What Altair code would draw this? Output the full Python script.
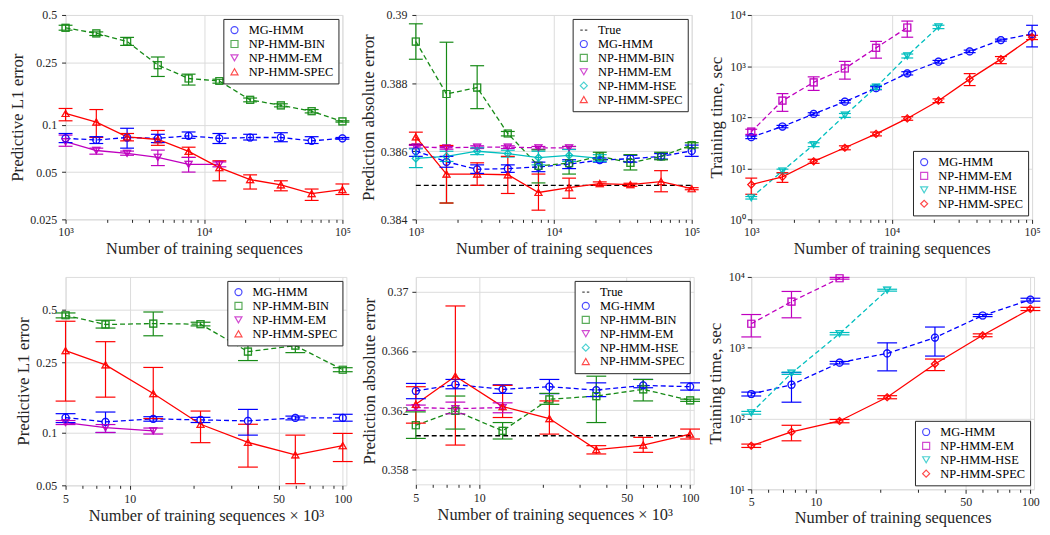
import json
import altair as alt
import pandas as pd

FONT = "Liberation Serif"
INK = "#262626"

MG, BIN, EM, HSE, SPEC, TRUE = "MG-HMM", "NP-HMM-BIN", "NP-HMM-EM", "NP-HMM-HSE", "NP-HMM-SPEC", "True"
COLOR = {TRUE: "#000000", MG: "#0000ff", BIN: "#168a16", EM: "#bf00bf", HSE: "#00bfbf", SPEC: "#ff0000"}
DASHED_PATH = "M-1,0L-0.3,0M0.3,0L1,0"

# ---------------- data: top row (x = number of training sequences) ----------------
X_TOP = [1000, 1668, 2783, 4642, 7743, 12915, 21544, 35938, 59948, 100000]

# panel 1: predictive L1 error
P1_MG = [0.082, 0.080, 0.083, 0.082, 0.085, 0.082, 0.083, 0.083, 0.079, 0.082]
P1_MG_LO = [0.077, 0.076, 0.071, 0.077, 0.082, 0.076, 0.080, 0.078, 0.076, 0.081]
P1_MG_HI = [0.088, 0.084, 0.095, 0.087, 0.090, 0.088, 0.087, 0.089, 0.084, 0.083]
P1_BIN = [0.414, 0.382, 0.339, 0.240, 0.197, 0.190, 0.144, 0.133, 0.122, 0.105]
P1_BIN_LO = [0.400, 0.370, 0.320, 0.203, 0.179, 0.184, 0.140, 0.130, 0.119, 0.104]
P1_BIN_HI = [0.430, 0.390, 0.360, 0.270, 0.210, 0.195, 0.148, 0.136, 0.125, 0.106]
P1_EM = [0.078, 0.0686, 0.0658, 0.0621, 0.056, 0.056]
P1_EM_LO = [0.073, 0.065, 0.064, 0.055, 0.050, 0.054]
P1_EM_HI = [0.086, 0.071, 0.068, 0.069, 0.062, 0.058]
P1_SPEC = [0.118, 0.104, 0.0838, 0.0806, 0.0677, 0.0534, 0.0448, 0.0415, 0.0365, 0.0387]
P1_SPEC_LO = [0.106, 0.083, 0.079, 0.074, 0.062, 0.044, 0.039, 0.038, 0.033, 0.036]
P1_SPEC_HI = [0.127, 0.125, 0.088, 0.092, 0.072, 0.059, 0.048, 0.044, 0.039, 0.042]

# panel 2: prediction absolute error
P2_TRUE = [0.385, 0.385]
P2_MG = [0.38601, 0.38569, 0.38547, 0.38549, 0.38554, 0.38562, 0.38574, 0.38578, 0.38585, 0.38601]
P2_MG_LO = [0.38585, 0.38553, 0.38535, 0.38538, 0.38540, 0.38549, 0.38568, 0.38568, 0.38577, 0.38585]
P2_MG_HI = [0.38618, 0.38585, 0.38560, 0.38560, 0.38568, 0.38575, 0.38580, 0.38588, 0.38593, 0.38618]
P2_BIN = [0.38922, 0.38768, 0.38787, 0.38652, 0.38557, 0.38565, 0.38585, 0.38566, 0.38585, 0.38618]
P2_BIN_LO = [0.38870, 0.38448, 0.38725, 0.38645, 0.38507, 0.38533, 0.38575, 0.38545, 0.38575, 0.38610]
P2_BIN_HI = [0.38974, 0.38920, 0.38851, 0.38658, 0.38604, 0.38614, 0.38597, 0.38590, 0.38597, 0.38625]
P2_EM = [0.38613, 0.38610, 0.38612, 0.38612, 0.38610, 0.38610]
P2_EM_LO = [0.38609, 0.38606, 0.38608, 0.38608, 0.38606, 0.38606]
P2_EM_HI = [0.38617, 0.38614, 0.38616, 0.38616, 0.38614, 0.38614]
P2_HSE = [0.38579, 0.38585, 0.38600, 0.38593, 0.38581, 0.38588, 0.38579]
P2_HSE_LO = [0.38552, 0.38570, 0.38590, 0.38583, 0.38560, 0.38570, 0.38570]
P2_HSE_HI = [0.38607, 0.38600, 0.38610, 0.38603, 0.38600, 0.38605, 0.38590]
P2_SPEC = [0.38642, 0.38533, 0.38533, 0.38531, 0.38479, 0.38493, 0.38505, 0.38502, 0.38511, 0.38490]
P2_SPEC_LO = [0.38620, 0.38448, 0.38500, 0.38476, 0.38427, 0.38462, 0.38500, 0.38497, 0.38481, 0.38487]
P2_SPEC_HI = [0.38656, 0.38617, 0.38566, 0.38585, 0.38533, 0.38521, 0.38510, 0.38506, 0.38543, 0.38493]

# panel 3: training time
P3_MG = [40.6, 65.6, 115.6, 201, 370, 721, 1216, 1936, 3221, 4242]
P3_MG_LO = [38, 62, 109, 190, 345, 670, 1140, 1830, 3080, 2370]
P3_MG_HI = [43, 69, 122, 212, 395, 775, 1290, 2050, 3370, 6280]
P3_EM = [52, 210, 480, 897, 2272, 5675]
P3_EM_LO = [46, 130, 334, 555, 1428, 3670]
P3_EM_HI = [58, 289, 615, 1235, 3040, 7590]
P3_HSE = [2.65, 8.83, 29.1, 109, 386, 1581, 5843]
P3_HSE_LO = [2.5, 8.0, 26.5, 99, 350, 1440, 5400]
P3_HSE_HI = [2.8, 9.6, 31.5, 118, 420, 1720, 6300]
P3_SPEC = [4.8, 6.8, 13.7, 25.2, 47, 94.4, 210, 555, 1367, 3670]
P3_SPEC_LO = [3.1, 5.3, 12.5, 23, 43, 87, 193, 415, 1114, 3300]
P3_SPEC_HI = [6.42, 8.2, 15, 27.5, 51, 102, 228, 711, 1535, 4000]

# ---------------- data: bottom row (x in thousands) ----------------
X_BOT = [5, 7.7, 12.9, 21.5, 35.9, 59.9, 100]

P4_MG = [0.1216, 0.1149, 0.1195, 0.118, 0.1164, 0.1211, 0.1211]
P4_MG_LO = [0.1139, 0.100, 0.116, 0.114, 0.0966, 0.118, 0.116]
P4_MG_HI = [0.128, 0.1308, 0.123, 0.122, 0.1354, 0.124, 0.127]
P4_BIN = [0.4656, 0.4124, 0.4177, 0.4142, 0.289, 0.3125, 0.2278]
P4_BIN_LO = [0.45, 0.3937, 0.3557, 0.405, 0.257, 0.2852, 0.222]
P4_BIN_HI = [0.48, 0.4362, 0.486, 0.425, 0.318, 0.3334, 0.234]
P4_EM = [0.1139, 0.1067, 0.1022]
P4_EM_LO = [0.111, 0.100, 0.098]
P4_EM_HI = [0.117, 0.111, 0.106]
P4_SPEC = [0.2927, 0.243, 0.1667, 0.1114, 0.0878, 0.0745, 0.0841]
P4_SPEC_LO = [0.151, 0.159, 0.120, 0.0875, 0.0635, 0.0511, 0.0683]
P4_SPEC_HI = [0.4305, 0.3292, 0.2348, 0.1325, 0.1114, 0.0966, 0.0988]

P5_TRUE = [0.36028, 0.36028]
P5_MG = [0.3633, 0.36374, 0.36341, 0.36359, 0.36336, 0.36368, 0.36359]
P5_MG_LO = [0.36278, 0.36345, 0.36314, 0.36312, 0.36292, 0.36352, 0.36336]
P5_MG_HI = [0.36381, 0.36408, 0.36372, 0.36408, 0.36385, 0.36408, 0.36385]
P5_BIN = [0.36099, 0.36196, 0.36061, 0.36274, 0.36296, 0.36341, 0.36267]
P5_BIN_LO = [0.3601, 0.36073, 0.36006, 0.3624, 0.36117, 0.36263, 0.3626]
P5_BIN_HI = [0.36189, 0.36296, 0.36117, 0.36314, 0.3643, 0.36408, 0.36275]
P5_EM = [0.36218, 0.36211, 0.36218]
P5_EM_LO = [0.36199, 0.36176, 0.36183]
P5_EM_HI = [0.36235, 0.36255, 0.36250]
P5_SPEC = [0.3624, 0.3643, 0.36225, 0.36144, 0.35934, 0.35965, 0.36039]
P5_SPEC_LO = [0.36113, 0.35965, 0.36151, 0.36039, 0.35905, 0.35916, 0.36006]
P5_SPEC_HI = [0.36359, 0.36904, 0.36368, 0.36263, 0.35961, 0.36017, 0.36073]

P6_MG = [222, 300, 615, 831, 1390, 2851, 4771]
P6_MG_LO = [208, 170, 590, 471, 762, 2750, 4550]
P6_MG_HI = [236, 446, 640, 1171, 1959, 2950, 5000]
P6_EM = [2181, 4474, 9581]
P6_EM_LO = [1420, 2645, 9300]
P6_EM_HI = [2944, 6237, 9850]
P6_HSE = [120.5, 436.5, 1581, 6513]
P6_HSE_LO = [115, 420, 1520, 6300]
P6_HSE_HI = [126, 452, 1640, 6700]
P6_SPEC = [41.2, 64.7, 92.2, 199.5, 589, 1498, 3532]
P6_SPEC_LO = [39, 48.4, 87, 190, 475, 1430, 3350]
P6_SPEC_HI = [43.5, 80.2, 97, 210, 692, 1570, 3720]

# tick positions
TOP_X_TICKS = [1000, 2000, 3000, 4000, 5000, 6000, 7000, 8000, 9000, 10000,
               20000, 30000, 40000, 50000, 60000, 70000, 80000, 90000, 100000]
TOP_X_MAJOR = [1000, 10000, 100000]
TOP_X_LABELS = {1000: "10\u00b3", 10000: "10\u2074", 100000: "10\u2075"}
BOT_X_TICKS = [5, 6, 7, 8, 9, 10, 20, 30, 40, 50, 60, 70, 80, 90, 100]
BOT_X_MAJOR = [5, 10, 50, 100]


def frame(x, series, true_x=None, true_y=None):
    rows = []
    for name, ys, lo, hi in series:
        for i, v in enumerate(ys):
            rows.append({"series": name, "x": x[i], "y": v, "lo": lo[i], "hi": hi[i]})
    if true_x is not None:
        for xv, yv in zip(true_x, true_y):
            rows.append({"series": TRUE, "x": xv, "y": yv, "lo": yv, "hi": yv})
    return pd.DataFrame(rows)


def axis(values, major, labels, title, label_pad, title_pad, title_size):
    test = "indexof(%s, datum.value) >= 0" % json.dumps(major)
    if labels:
        expr = "".join("datum.value == %s ? '%s' : " % (k, v) for k, v in labels.items()) + "''"
    else:
        expr = test + " ? datum.label : ''"
    return alt.Axis(
        values=values, labelExpr=expr, format=".4~g", title=title,
        grid=True, gridColor="#dcdcdc",
        gridOpacity={"condition": {"test": test, "value": 1}, "value": 0},
        tickSize={"condition": {"test": test, "value": 4}, "value": 3},
        tickColor=INK, domain=False, labelPadding=label_pad, titlePadding=title_pad,
        labelFlush=False, labelOverlap=False, labelFont=FONT, labelFontSize=12,
        labelColor=INK, titleFont=FONT, titleFontSize=title_size, titleColor=INK,
        titleFontWeight="normal")


def panel(df, names, shapes, dashed, xdom, xaxis, ytype, ydom, yaxis, orient, cap, w, h):
    cscale = alt.Scale(domain=names, range=[COLOR[n] for n in names])
    sscale = alt.Scale(domain=names, range=[shapes[n] for n in names])
    leg = alt.Legend(title=None, orient=orient, offset=4, padding=5, strokeColor=INK,
                     fillColor="white", labelFont=FONT, labelFontSize=12.5, labelColor="#000000",
                     symbolSize=50, symbolStrokeWidth=1.2, rowPadding=1, labelOffset=8)
    X = alt.X("x:Q", scale=alt.Scale(type="log", domain=xdom, nice=False), axis=xaxis)
    ysc = alt.Scale(type=ytype, domain=ydom, nice=False, zero=False) if ytype == "log" else \
        alt.Scale(domain=ydom, nice=False, zero=False)
    Y = alt.Y("y:Q", scale=ysc, axis=yaxis)
    base = alt.Chart(df)
    eb = base.transform_filter("datum.series != 'True'")
    nc = alt.Color("series:N", scale=cscale, legend=None)
    dashed_names = [n for n in names if dashed[n]]
    solid_names = [n for n in names if not dashed[n]]
    # first layer carries the legend (hollow markers)
    pts_leg = eb.mark_point(filled=False, size=50, strokeWidth=1.2).encode(
        x=X, y=Y, color=alt.Color("series:N", scale=cscale, legend=leg),
        shape=alt.Shape("series:N", scale=sscale, legend=leg))
    line_d = base.transform_filter(alt.FieldOneOfPredicate(field="series", oneOf=dashed_names)).mark_line(
        strokeWidth=1.3, strokeDash=[5, 3]).encode(x=X, y=Y, color=nc)
    line_s = base.transform_filter(alt.FieldOneOfPredicate(field="series", oneOf=solid_names)).mark_line(
        strokeWidth=1.3).encode(x=X, y=Y, color=nc)
    rule = eb.mark_rule(strokeWidth=1.2).encode(x=X, y=alt.Y("lo:Q", scale=ysc), y2="hi:Q", color=nc)
    cap_lo = eb.mark_rule(strokeWidth=1.2, xOffset=-cap / 2, x2Offset=cap / 2).encode(
        x=X, x2="x:Q", y=alt.Y("lo:Q", scale=ysc), color=nc)
    cap_hi = eb.mark_rule(strokeWidth=1.2, xOffset=-cap / 2, x2Offset=cap / 2).encode(
        x=X, x2="x:Q", y=alt.Y("hi:Q", scale=ysc), color=nc)
    pts = eb.mark_point(filled=False, size=50, strokeWidth=1.2).encode(
        x=X, y=Y, color=nc, shape=alt.Shape("series:N", scale=sscale, legend=None))
    return alt.layer(pts_leg, line_d, line_s, rule, cap_lo, cap_hi, pts).properties(width=w, height=h)


XT = "Number of training sequences"
XB = "Number of training sequences \u00d7 10\u00b3"
SH1 = {TRUE: DASHED_PATH, MG: "circle", BIN: "square", EM: "triangle-down", HSE: "diamond", SPEC: "triangle-up"}
SH3 = {MG: "circle", EM: "square", HSE: "triangle-down", SPEC: "diamond"}
YT = 17  # y title size
XTS = 16.5  # x title size

# ---- panel 1
d1 = frame(X_TOP, [(MG, P1_MG, P1_MG_LO, P1_MG_HI), (BIN, P1_BIN, P1_BIN_LO, P1_BIN_HI),
                   (EM, P1_EM, P1_EM_LO, P1_EM_HI), (SPEC, P1_SPEC, P1_SPEC_LO, P1_SPEC_HI)])
p1 = panel(d1, [MG, BIN, EM, SPEC], SH1, {MG: True, BIN: True, EM: False, SPEC: False},
           [1000, 100000], axis(TOP_X_TICKS, TOP_X_MAJOR, TOP_X_LABELS, XT, 3, 3, XTS),
           "log", [0.025, 0.5],
           axis([0.025, 0.05, 0.1, 0.25, 0.5], [0.025, 0.05, 0.1, 0.25, 0.5], None,
                "Predictive L1 error", 5, 3, YT),
           "top-right", 14, 279, 206)

# ---- panel 2
d2 = frame(X_TOP, [(MG, P2_MG, P2_MG_LO, P2_MG_HI), (BIN, P2_BIN, P2_BIN_LO, P2_BIN_HI),
                   (EM, P2_EM, P2_EM_LO, P2_EM_HI), (HSE, P2_HSE, P2_HSE_LO, P2_HSE_HI),
                   (SPEC, P2_SPEC, P2_SPEC_LO, P2_SPEC_HI)], [1000, 100000], P2_TRUE)
p2 = panel(d2, [TRUE, MG, BIN, EM, HSE, SPEC], SH1,
           {TRUE: True, MG: True, BIN: True, EM: True, HSE: False, SPEC: False},
           [1000, 100000], axis(TOP_X_TICKS, TOP_X_MAJOR, TOP_X_LABELS, XT, 3, 3, XTS),
           "linear", [0.384, 0.39],
           axis([0.384, 0.386, 0.388, 0.39], [0.384, 0.386, 0.388, 0.39], None,
                "Prediction absolute error", 5, 3, YT),
           "top-right", 14, 278, 206)

# ---- panel 3
d3 = frame(X_TOP, [(MG, P3_MG, P3_MG_LO, P3_MG_HI), (EM, P3_EM, P3_EM_LO, P3_EM_HI),
                   (HSE, P3_HSE, P3_HSE_LO, P3_HSE_HI), (SPEC, P3_SPEC, P3_SPEC_LO, P3_SPEC_HI)])
p3 = panel(d3, [MG, EM, HSE, SPEC], SH3, {MG: True, EM: True, HSE: True, SPEC: False},
           [1000, 100000], axis(TOP_X_TICKS, TOP_X_MAJOR, TOP_X_LABELS, XT, 3, 3, XTS),
           "log", [1, 10000],
           axis([1, 10, 100, 1000, 10000], [1, 10, 100, 1000, 10000],
                {1: "10\u2070", 10: "10\u00b9", 100: "10\u00b2", 1000: "10\u00b3", 10000: "10\u2074"},
                "Training time, sec", 2, 4, YT),
           "bottom-right", 12, 283, 206)

# ---- panel 4
d4 = frame(X_BOT, [(MG, P4_MG, P4_MG_LO, P4_MG_HI), (BIN, P4_BIN, P4_BIN_LO, P4_BIN_HI),
                   (EM, P4_EM, P4_EM_LO, P4_EM_HI), (SPEC, P4_SPEC, P4_SPEC_LO, P4_SPEC_HI)])
p4 = panel(d4, [MG, BIN, EM, SPEC], SH1, {MG: True, BIN: True, EM: False, SPEC: False},
           [5, 104], axis(BOT_X_TICKS, BOT_X_MAJOR, None, XB, 4, 3, XTS),
           "log", [0.05, 0.77],
           axis([0.05, 0.1, 0.25, 0.5], [0.05, 0.1, 0.25, 0.5], None,
                "Predictive L1 error", 5, 3, YT),
           "top-right", 20, 283, 210)

# ---- panel 5
d5 = frame(X_BOT, [(MG, P5_MG, P5_MG_LO, P5_MG_HI), (BIN, P5_BIN, P5_BIN_LO, P5_BIN_HI),
                   (EM, P5_EM, P5_EM_LO, P5_EM_HI), (SPEC, P5_SPEC, P5_SPEC_LO, P5_SPEC_HI)],
           [5, 104], P5_TRUE)
p5 = panel(d5, [TRUE, MG, BIN, EM, HSE, SPEC], SH1,
           {TRUE: True, MG: True, BIN: True, EM: True, HSE: False, SPEC: False},
           [5, 104], axis(BOT_X_TICKS, BOT_X_MAJOR, None, XB, 4, 3, XTS),
           "linear", [0.357, 0.371],
           axis([0.358, 0.362, 0.366, 0.37], [0.358, 0.362, 0.366, 0.37], None,
                "Prediction absolute error", 4, 3, YT),
           "top-right", 20, 280, 209)

# ---- panel 6
d6 = frame(X_BOT, [(MG, P6_MG, P6_MG_LO, P6_MG_HI), (EM, P6_EM, P6_EM_LO, P6_EM_HI),
                   (HSE, P6_HSE, P6_HSE_LO, P6_HSE_HI), (SPEC, P6_SPEC, P6_SPEC_LO, P6_SPEC_HI)])
p6 = panel(d6, [MG, EM, HSE, SPEC], SH3, {MG: True, EM: True, HSE: True, SPEC: False},
           [5, 104], axis(BOT_X_TICKS, BOT_X_MAJOR, None, XT, 3, 2, XTS),
           "log", [10, 10000],
           axis([10, 100, 1000, 10000], [10, 100, 1000, 10000],
                {10: "10\u00b9", 100: "10\u00b2", 1000: "10\u00b3", 10000: "10\u2074"},
                "Training time, sec", 3, 4, YT),
           "bottom-right", 20, 285, 214)

chart = alt.concat(p1, p2, p3, p4, p5, p6, columns=3, spacing={"row": 13, "column": 4}).resolve_scale(
    color="independent", shape="independent")
chart = chart.properties(padding={"left": 0, "top": -2, "right": 0, "bottom": 0}).configure_view(
    stroke=INK, strokeWidth=1).configure_legend(labelFont=FONT, labelFontSize=12.5).configure(
    background="white")

chart.save("out.html", embed_options={"renderer": "svg", "actions": False})
